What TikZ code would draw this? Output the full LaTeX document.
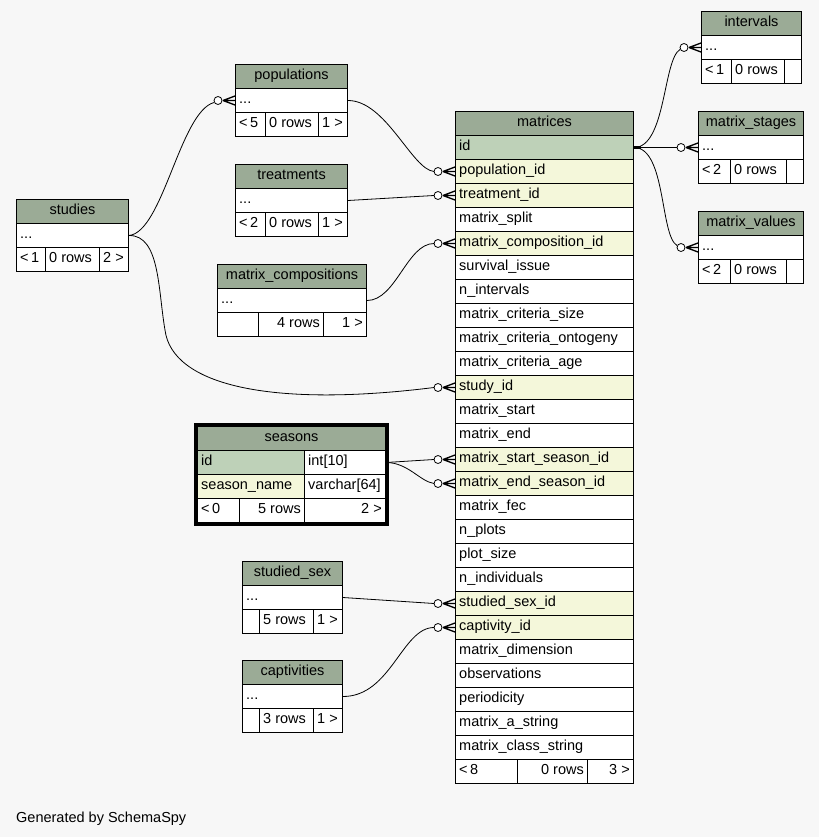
\documentclass[tikz,border=0pt]{standalone}
\usepackage{fontspec}
\setmainfont{Liberation Sans}
\usetikzlibrary{calc}

\definecolor{bgc}{HTML}{F7F7F7}
\definecolor{hdc}{HTML}{9BAB96}
\definecolor{pkc}{HTML}{BED1B8}
\definecolor{fkc}{HTML}{F4F7DA}

\tikzset{
  cell/.style={draw=black, line width=1pt, rectangle, inner sep=0pt,
               minimum height=24pt, anchor=north west},
  lbl/.style={inner sep=0pt, font=\fontsize{14.5}{17}\selectfont},
  conn/.style={line width=0.8pt},
  crowline/.style={line width=1.3pt},
}

% table cells: name, x, y, width, fill, text
\newcommand\cellL[6]{%
  \node[cell, fill=#5, minimum width=#4pt] (#1) at (#2,#3) {};
  \node[lbl, anchor=base west] (#1-t) at ($(#1.north west)+(4,15.5)$) {#6};}
\newcommand\cellR[6]{%
  \node[cell, fill=#5, minimum width=#4pt] (#1) at (#2,#3) {};
  \node[lbl, anchor=base east] (#1-t) at ($(#1.north east)+(-4,15.5)$) {#6};}
\newcommand\cellC[6]{%
  \node[cell, fill=#5, minimum width=#4pt] (#1) at (#2,#3) {};
  \node[lbl, anchor=base] (#1-t) at ($(#1.north)+(0,15.5)$) {#6};}

% zero-or-many end: open circle and crow's foot at the west side of a row
\newcommand\crowfoot[1]{%
  \draw[crowline] ($(#1.west)+(-12,0)$) -- ($(#1.west)+(0,-4.5)$)
                  ($(#1.west)+(-12,0)$) -- (#1.west)
                  ($(#1.west)+(-12,0)$) -- ($(#1.west)+(0,4.5)$);
  \draw[conn, fill=white] ($(#1.west)+(-17,0)$) circle[radius=4pt];}

\begin{document}
\begin{tikzpicture}[x=1pt, y=-1pt]
\useasboundingbox[fill=bgc] (0,0) rectangle (819,837);

% ---------------- matrices ----------------
\cellC{m-h}{455}{111}{178}{hdc}{matrices}
\cellL{m-id}{455}{135}{178}{pkc}{id}
\cellL{m-pop}{455}{159}{178}{fkc}{population\_id}
\cellL{m-trt}{455}{183}{178}{fkc}{treatment\_id}
\cellL{m-split}{455}{207}{178}{white}{matrix\_split}
\cellL{m-comp}{455}{231}{178}{fkc}{matrix\_composition\_id}
\cellL{m-surv}{455}{255}{178}{white}{survival\_issue}
\cellL{m-nint}{455}{279}{178}{white}{n\_intervals}
\cellL{m-csize}{455}{303}{178}{white}{matrix\_criteria\_size}
\cellL{m-conto}{455}{327}{178}{white}{matrix\_criteria\_ontogeny}
\cellL{m-cage}{455}{351}{178}{white}{matrix\_criteria\_age}
\cellL{m-study}{455}{375}{178}{fkc}{study\_id}
\cellL{m-start}{455}{399}{178}{white}{matrix\_start}
\cellL{m-end}{455}{423}{178}{white}{matrix\_end}
\cellL{m-sstart}{455}{447}{178}{fkc}{matrix\_start\_season\_id}
\cellL{m-send}{455}{471}{178}{fkc}{matrix\_end\_season\_id}
\cellL{m-fec}{455}{495}{178}{white}{matrix\_fec}
\cellL{m-nplots}{455}{519}{178}{white}{n\_plots}
\cellL{m-psize}{455}{543}{178}{white}{plot\_size}
\cellL{m-nind}{455}{567}{178}{white}{n\_individuals}
\cellL{m-sex}{455}{591}{178}{fkc}{studied\_sex\_id}
\cellL{m-capt}{455}{615}{178}{fkc}{captivity\_id}
\cellL{m-dim}{455}{639}{178}{white}{matrix\_dimension}
\cellL{m-obs}{455}{663}{178}{white}{observations}
\cellL{m-per}{455}{687}{178}{white}{periodicity}
\cellL{m-astr}{455}{711}{178}{white}{matrix\_a\_string}
\cellL{m-cstr}{455}{735}{178}{white}{matrix\_class\_string}
\cellL{m-f1}{455}{759}{62}{white}{<\,8}
\cellR{m-f2}{517}{759}{70}{white}{0 rows}
\cellR{m-f3}{587}{759}{46}{white}{3 >}

% ---------------- intervals ----------------
\cellC{int-h}{701}{11}{100}{hdc}{intervals}
\cellL{int-r}{701}{35}{100}{white}{...}
\cellL{int-f1}{701}{59}{30}{white}{<\,1}
\cellL{int-f2}{731}{59}{53}{white}{0 rows}
\cellL{int-f3}{784}{59}{17}{white}{}

% ---------------- matrix_stages ----------------
\cellC{stg-h}{698}{111}{105}{hdc}{matrix\_stages}
\cellL{stg-r}{698}{135}{105}{white}{...}
\cellL{stg-f1}{698}{159}{32}{white}{<\,2}
\cellL{stg-f2}{730}{159}{56}{white}{0 rows}
\cellL{stg-f3}{786}{159}{17}{white}{}

% ---------------- matrix_values ----------------
\cellC{val-h}{698}{211}{105}{hdc}{matrix\_values}
\cellL{val-r}{698}{235}{105}{white}{...}
\cellL{val-f1}{698}{259}{32}{white}{<\,2}
\cellL{val-f2}{730}{259}{56}{white}{0 rows}
\cellL{val-f3}{786}{259}{17}{white}{}

% ---------------- populations ----------------
\cellC{pop-h}{235}{64}{112}{hdc}{populations}
\cellL{pop-r}{235}{88}{112}{white}{...}
\cellL{pop-f1}{235}{112}{30}{white}{<\,5}
\cellL{pop-f2}{265}{112}{53}{white}{0 rows}
\cellL{pop-f3}{318}{112}{29}{white}{1 >}

% ---------------- treatments ----------------
\cellC{trt-h}{235}{164}{112}{hdc}{treatments}
\cellL{trt-r}{235}{188}{112}{white}{...}
\cellL{trt-f1}{235}{212}{30}{white}{<\,2}
\cellL{trt-f2}{265}{212}{53}{white}{0 rows}
\cellL{trt-f3}{318}{212}{29}{white}{1 >}

% ---------------- studies ----------------
\cellC{sty-h}{16}{199}{112}{hdc}{studies}
\cellL{sty-r}{16}{223}{112}{white}{...}
\cellL{sty-f1}{16}{247}{29}{white}{<\,1}
\cellL{sty-f2}{45}{247}{54}{white}{0 rows}
\cellL{sty-f3}{99}{247}{29}{white}{2 >}

% ---------------- matrix_compositions ----------------
\cellC{cmp-h}{217}{264}{149}{hdc}{matrix\_compositions}
\cellL{cmp-r}{217}{288}{149}{white}{...}
\cellL{cmp-f1}{217}{312}{41}{white}{}
\cellR{cmp-f2}{258}{312}{65}{white}{4 rows}
\cellR{cmp-f3}{323}{312}{43}{white}{1 >}

% ---------------- seasons ----------------
\cellC{sea-h}{197}{426}{188}{hdc}{seasons}
\cellL{sea-id}{197}{450}{107}{pkc}{id}
\cellL{sea-idt}{304}{450}{81}{white}{int[10]}
\cellL{sea-nm}{197}{474}{107}{fkc}{season\_name}
\cellL{sea-nmt}{304}{474}{81}{white}{varchar[64]}
\cellL{sea-f1}{197}{498}{42}{white}{<\,0}
\cellR{sea-f2}{239}{498}{65}{white}{5 rows}
\cellR{sea-f3}{304}{498}{81}{white}{2 >}
\draw[line width=3pt] ($(sea-h.north west)+(-1.5,-1.5)$) rectangle ($(sea-f3.south east)+(1.5,1.5)$);

% ---------------- studied_sex ----------------
\cellC{sex-h}{242}{561}{100}{hdc}{studied\_sex}
\cellL{sex-r}{242}{585}{100}{white}{...}
\cellL{sex-f1}{242}{609}{17}{white}{}
\cellL{sex-f2}{259}{609}{54}{white}{5 rows}
\cellL{sex-f3}{313}{609}{29}{white}{1 >}

% ---------------- captivities ----------------
\cellC{cap-h}{242}{660}{100}{hdc}{captivities}
\cellL{cap-r}{242}{684}{100}{white}{...}
\cellL{cap-f1}{242}{708}{17}{white}{}
\cellL{cap-f2}{259}{708}{54}{white}{3 rows}
\cellL{cap-f3}{313}{708}{29}{white}{1 >}

% ---------------- relationships ----------------
\draw[conn] (sty-r.east) .. controls (163,232) and (180,112) .. ($(pop-r.west)+(-21,2)$);
\draw[conn] (sty-r.east) .. controls (160,235) and (158,290) .. (165,330)
            .. controls (172,385) and (270,408) .. ($(m-study.west)+(-21,0)$);
\draw[conn] (pop-r.east) .. controls +(38,0) and +(-22,-2) .. ($(m-pop.west)+(-21,0)$);
\draw[conn] (trt-r.east) -- ($(m-trt.west)+(-21,0)$);
\draw[conn] (cmp-r.east) .. controls +(29,0) and +(-27,0) .. ($(m-comp.west)+(-21,0)$);
\draw[conn] (sea-idt.east) -- ($(m-sstart.west)+(-21,0)$);
\draw[conn] (sea-idt.east) .. controls +(22,0) and +(-14,-2) .. ($(m-send.west)+(-21,0)$);
\draw[conn] (sex-r.east) -- ($(m-sex.west)+(-21,0)$);
\draw[conn] (cap-r.east) .. controls +(48,0) and +(-32,0) .. ($(m-capt.west)+(-21,0)$);

\draw[conn] (m-id.east) .. controls +(32,0) and +(-17,10) .. ($(int-r.west)+(-21,2)$);
\draw[conn] (m-id.east) -- ($(stg-r.west)+(-21,0)$);
\draw[conn] (m-id.east) .. controls +(32,0) and +(-17,-10) .. ($(val-r.west)+(-21,-2)$);
\draw[line width=2.5pt] (m-id.east) -- ++(7,0);

\crowfoot{pop-r}
\crowfoot{m-pop}
\crowfoot{m-trt}
\crowfoot{m-comp}
\crowfoot{m-study}
\crowfoot{m-sstart}
\crowfoot{m-send}
\crowfoot{m-sex}
\crowfoot{m-capt}
\crowfoot{int-r}
\crowfoot{stg-r}
\crowfoot{val-r}

\node[lbl, anchor=base west] (credit) at (16,822) {Generated by SchemaSpy};
\end{tikzpicture}
\end{document}
